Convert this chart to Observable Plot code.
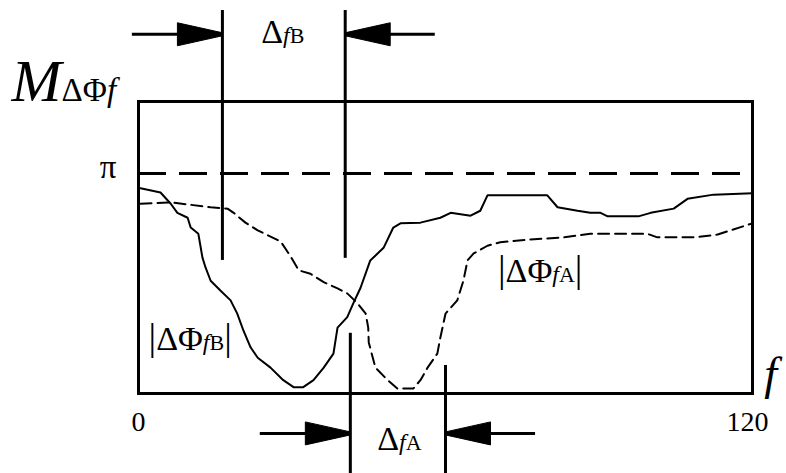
<!DOCTYPE html>
<html>
<head>
<meta charset="utf-8">
<script src="https://cdn.jsdelivr.net/npm/d3@7"></script>
<script src="https://cdn.jsdelivr.net/npm/@observablehq/plot@0.6"></script>
<style>
  html, body { margin: 0; padding: 0; background: #fff; }
  #chart { width: 786px; height: 473px; }
</style>
</head>
<body>
<div id="chart"></div>
<script>
// |ΔΦfB| – solid curve: frequency f and phase-difference magnitude (rad)
const freqB = [0.4, 4.3, 6.3, 7.6, 9.6, 10.2, 11.7, 12.5, 13.1, 14.1, 16.0, 18.0, 19.3, 20.5, 21.9, 23.3, 25.8, 28.3, 30.3, 32.2, 34.2, 36.2, 38.1, 38.9, 40.8, 42.0, 43.4, 45.3, 47.9, 49.8, 51.2, 55.1, 59.0, 61.0, 64.9, 66.8, 68.2, 79.9, 81.9, 85.8, 88.3, 90.3, 91.7, 97.7, 100.1, 104.6, 107.3, 112.4, 120];
const magB  = [2.93, 2.87, 2.71, 2.58, 2.51, 2.37, 2.28, 1.94, 1.80, 1.61, 1.47, 1.33, 1.14, 0.90, 0.66, 0.51, 0.37, 0.19, 0.09, 0.09, 0.19, 0.37, 0.57, 0.94, 1.09, 1.29, 1.51, 1.90, 2.08, 2.37, 2.43, 2.44, 2.51, 2.58, 2.54, 2.61, 2.83, 2.83, 2.66, 2.61, 2.58, 2.58, 2.53, 2.53, 2.58, 2.64, 2.78, 2.84, 2.86];

// |ΔΦfA| – dashed curve
const freqA = [0.4, 6.3, 14.1, 17.4, 18.6, 20.9, 23.3, 27.8, 29.7, 31.3, 33.6, 36.2, 38.9, 40.8, 42.8, 44.4, 44.9, 45.0, 46.3, 48.7, 50.6, 53.7, 55.1, 56.5, 58.4, 59.0, 60.0, 62.3, 63.5, 64.3, 65.5, 68.2, 70.7, 76.6, 83.1, 88.3, 99.5, 101.4, 108.5, 113.2, 115.7, 120];
const magA  = [2.71, 2.73, 2.66, 2.64, 2.58, 2.44, 2.33, 2.17, 1.96, 1.76, 1.71, 1.59, 1.50, 1.43, 1.29, 1.14, 0.94, 0.73, 0.37, 0.19, 0.07, 0.07, 0.19, 0.37, 0.57, 0.80, 1.14, 1.33, 1.61, 1.90, 2.00, 2.11, 2.16, 2.20, 2.23, 2.28, 2.28, 2.23, 2.23, 2.27, 2.33, 2.43];

// Bandwidth limits ΔfB and ΔfA (frequency units)
const bandB = [16.4, 40.4];
const bandA = [41.4, 60.0];

// Axis ticks
const xTicks = [0, 120];
const xTickLabels = ["0", "120"];
const yTicks = [Math.PI];
const yTickLabels = ["π"];

// ---- layout ----
const W = 786, H = 473;
const M = {top: 101, right: 34, bottom: 80, left: 138};
const xDomain = [0, 120], yDomain = [0, 4.17];
const kx = (W - M.left - M.right) / (xDomain[1] - xDomain[0]);   // px per frequency unit
const ky = (H - M.top - M.bottom) / (yDomain[1] - yDomain[0]);   // px per radian
const serif = "'Liberation Serif', 'Times New Roman', Times, serif";

const curveB = freqB.map((f, i) => ({f, m: magB[i]}));
const curveA = freqA.map((f, i) => ({f, m: magA[i]}));

// Dimension-line geometry in chart units
const topLevel = 5.13, botLevel = -0.57;
const verticals = [
  {f: bandB[0], y1: 1.90, y2: 5.47},
  {f: bandB[1], y1: 1.93, y2: 5.47},
  {f: bandA[0], y1: 0.86, y2: -1.15},
  {f: bandA[1], y1: 0.40, y2: -1.15}
];
const shafts = [
  {y: topLevel, f1: -1.2, f2: bandB[0]},
  {y: topLevel, f1: bandB[1], f2: 58.0},
  {y: botLevel, f1: 23.8, f2: bandA[0]},
  {y: botLevel, f1: bandA[1], f2: 77.6}
];
// arrow tips: dir +1 points right, -1 points left
const tips = [
  {f: bandB[0], y: topLevel, dir: 1},
  {f: bandB[1], y: topLevel, dir: -1},
  {f: bandA[0], y: botLevel, dir: 1},
  {f: bandA[1], y: botLevel, dir: -1}
];
const headLen = 45, headHalf = 11.5, tipHalf = 1.5; // px
const heads = tips.flatMap((t, id) => {
  const b = t.f - t.dir * headLen / kx;
  return [
    {id, f: t.f, y: t.y + tipHalf / ky},
    {id, f: b, y: t.y + headHalf / ky},
    {id, f: b, y: t.y - headHalf / ky},
    {id, f: t.f, y: t.y - tipHalf / ky}
  ];
});

// Labels made of runs with their own style and size
const it = "italic", up = "normal";
const richMiddle = [
  {f: 10.1, y: 0.62, parts: [["|", up, 38], ["ΔΦ", up, 34], ["f", it, 24], ["B", up, 22], ["|", up, 38]]},
  {f: 78.5, y: 1.59, parts: [["|", up, 38], ["ΔΦ", up, 34], ["f", it, 24], ["A", up, 22], ["|", up, 38]]},
  {f: 28.2, y: 5.00, parts: [["Δ", up, 34], ["f", it, 24], ["B", up, 22]]},
  {f: 51.0, y: -0.80, parts: [["Δ", up, 34], ["f", it, 24], ["A", up, 22]]}
];
const richStart = [
  {f: -24.8, y: 4.18, parts: [["M", it, 60], ["ΔΦ", up, 33], ["f", it, 33]]},
  {f: 122.3, y: 0.07, parts: [["f", it, 46]]}
];
const joined = d => d.parts.map(p => p[0]).join("");

const chart = Plot.plot({
  width: W, height: H,
  marginTop: M.top, marginRight: M.right, marginBottom: M.bottom, marginLeft: M.left,
  style: {fontFamily: serif, background: "#fff", color: "#000", overflow: "visible"},
  x: {domain: xDomain},
  y: {domain: yDomain},
  marks: [
    Plot.ruleY(yTicks, {strokeWidth: 3, strokeDasharray: "28,13"}),
    Plot.line(curveB, {x: "f", y: "m", stroke: "#000", strokeWidth: 2, strokeLinejoin: "miter"}),
    Plot.line(curveA, {x: "f", y: "m", stroke: "#000", strokeWidth: 2, strokeDasharray: "11,6"}),
    Plot.frame({stroke: "#000", strokeWidth: 3}),
    Plot.axisX([xTicks[0]], {tickFormat: () => xTickLabels[0], tickSize: 0, tickPadding: 18, fontSize: 28, label: null}),
    Plot.axisX([xTicks[1]], {tickFormat: () => xTickLabels[1], tickSize: 0, tickPadding: 18, fontSize: 28, dx: -5, label: null}),
    Plot.axisY(yTicks, {tickFormat: (d, i) => yTickLabels[i], tickSize: 0, tickPadding: 22, fontSize: 33, dy: -6, label: null}),
    Plot.ruleX(verticals, {x: "f", y1: "y1", y2: "y2", strokeWidth: 3}),
    Plot.ruleY(shafts, {y: "y", x1: "f1", x2: "f2", strokeWidth: 3}),
    Plot.line(heads, {x: "f", y: "y", z: "id", fill: "#000", stroke: "#000", strokeWidth: 1}),
    Plot.text(richMiddle, {x: "f", y: "y", text: joined, textAnchor: "middle", lineAnchor: "bottom", fill: "#000"}),
    Plot.text(richStart, {x: "f", y: "y", text: joined, textAnchor: "start", lineAnchor: "bottom", fill: "#000"})
  ]
});

// Rebuild the composite labels as styled tspans
const rich = richMiddle.concat(richStart);
d3.select(chart).selectAll("text").each(function () {
  const lbl = rich.find(l => joined(l) === this.textContent);
  if (!lbl) return;
  const t = d3.select(this).text(null);
  for (const [s, style, size] of lbl.parts) {
    t.append("tspan").attr("font-style", style).attr("font-size", size).text(s);
  }
});

document.getElementById("chart").append(chart);
</script>
</body>
</html>
